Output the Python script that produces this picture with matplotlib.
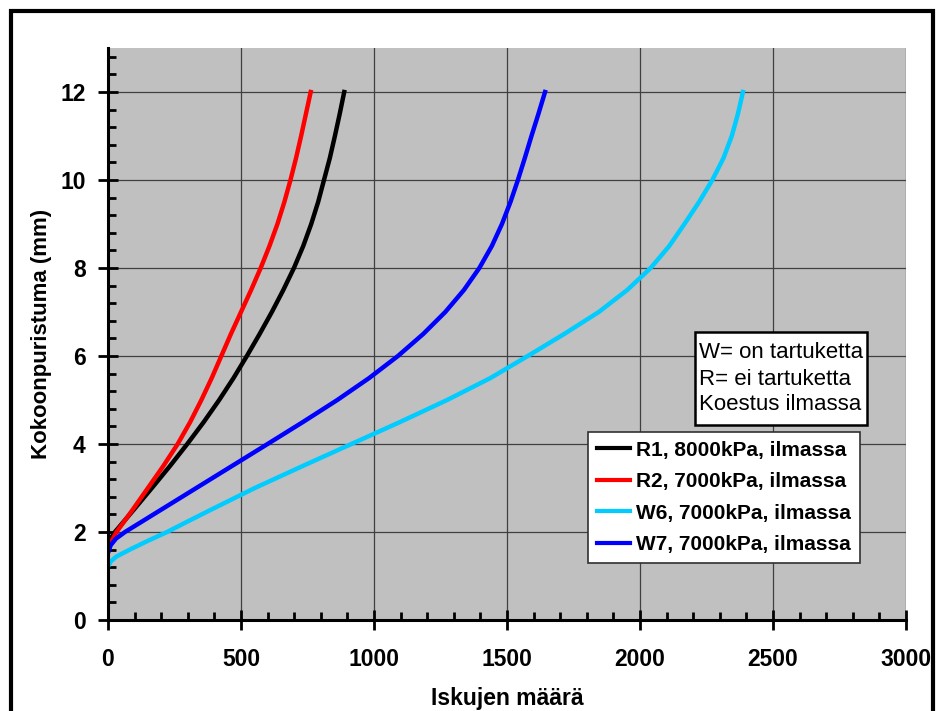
import matplotlib
matplotlib.use("Agg")
import matplotlib.pyplot as plt
from matplotlib.ticker import MultipleLocator
from matplotlib.patches import Rectangle

plt.rcParams['font.family'] = ['Liberation Sans', 'DejaVu Sans']

# Compaction (mm) versus number of blows
r1_y = [1.70, 1.85, 2.0, 2.5, 3.0, 3.5, 4.0, 4.5, 5.0, 5.5, 6.0, 6.5, 7.0, 7.5,
        8.0, 8.5, 9.0, 9.5, 10.0, 10.5, 11.0, 11.5, 12.0]
r1_x = [0, 10, 26, 96, 165, 233, 298, 360, 418, 472, 522, 570, 616, 659,
        699, 734, 764, 790, 812, 834, 853, 871, 888]

r2_y = [1.62, 1.8, 2.0, 2.5, 3.0, 3.5, 4.0, 4.5, 5.0, 5.5, 6.0, 6.5, 7.0, 7.5,
        8.0, 8.5, 9.0, 9.5, 10.0, 10.5, 11.0, 11.5, 12.0]
r2_x = [0, 14, 32, 92, 150, 208, 262, 309, 351, 390, 426, 462, 500, 538,
        574, 607, 637, 663, 686, 707, 726, 744, 762]

w6_y = [1.21, 1.33, 1.44, 1.6, 1.8, 2.0, 2.25, 2.5, 3.0, 3.5, 4.0, 4.5, 5.0, 5.5,
        6.0, 6.5, 7.0, 7.5, 8.0, 8.5, 9.0, 9.5, 10.0, 10.5, 11.0, 11.5, 12.0]
w6_x = [0, 10, 31, 82, 150, 222, 303, 385, 552, 732, 915, 1098, 1275, 1438,
        1578, 1715, 1845, 1952, 2040, 2110, 2167, 2222, 2272, 2314, 2345, 2368, 2387]

w7_y = [1.52, 1.7, 1.85, 2.0, 2.5, 3.0, 3.5, 4.0, 4.5, 5.0, 5.5, 6.0, 6.5, 7.0,
        7.5, 8.0, 8.5, 9.0, 9.5, 10.0, 10.5, 11.0, 11.5, 12.0]
w7_x = [0, 10, 30, 64, 198, 332, 466, 600, 733, 862, 982, 1090, 1185, 1268,
        1338, 1396, 1443, 1481, 1513, 1541, 1567, 1592, 1618, 1643]

labels = ["R1, 8000kPa, ilmassa", "R2, 7000kPa, ilmassa",
          "W6, 7000kPa, ilmassa", "W7, 7000kPa, ilmassa"]
colors = ["#000000", "#FF0000", "#00CCFF", "#0000FF"]
note_lines = ["W= on tartuketta", "R= ei tartuketta", "Koestus ilmassa"]

fig = plt.figure(figsize=(9.36, 7.11), dpi=100)
fig.patch.set_facecolor("white")
ax = fig.add_axes([108/936, 1 - 620/711, 798/936, 572/711])
ax.set_facecolor("#C0C0C0")

series = [(r1_x, r1_y), (r2_x, r2_y), (w6_x, w6_y), (w7_x, w7_y)]
for (xs, ys), lab, col in zip(series, labels, colors):
    ax.plot(xs, ys, color=col, lw=3.2, label=lab, solid_joinstyle="round")

ax.set_xlim(0, 3000)
ax.set_ylim(0, 13)
ax.xaxis.set_major_locator(MultipleLocator(500))
ax.xaxis.set_minor_locator(MultipleLocator(100))
ax.yaxis.set_major_locator(MultipleLocator(2))
ax.yaxis.set_minor_locator(MultipleLocator(0.4))

ax.grid(True, which="major", color="#404040", lw=0.9)
ax.set_axisbelow(True)

for side in ("top", "right"):
    ax.spines[side].set_visible(False)
for side in ("left", "bottom"):
    ax.spines[side].set_linewidth(2.2)
    ax.spines[side].set_zorder(5)

ax.tick_params(which="major", direction="inout", length=14, width=2, labelsize=16.5, pad=9)
ax.tick_params(axis="x", which="major", pad=13)
ax.tick_params(which="minor", direction="in", length=6, width=2)
for lbl in ax.get_xticklabels() + ax.get_yticklabels():
    lbl.set_fontweight("bold")

ax.set_xlabel("Iskujen määrä", fontsize=16.5, fontweight="bold", labelpad=12)
ax.set_ylabel("Kokoonpuristuma (mm)", fontsize=16, fontweight="bold", labelpad=6)

leg = ax.legend(loc="lower left", bbox_to_anchor=(0.6015, 0.0997), frameon=True,
                fancybox=False, framealpha=1, edgecolor="#303030",
                prop={"size": 15, "weight": "bold"}, handlelength=1.6,
                handletextpad=0.3, labelspacing=0.6, borderpad=0.42,
                borderaxespad=0)
leg.get_frame().set_linewidth(1.2)
for h in leg.legend_handles:
    h.set_linewidth(3.0)

# note box with three lines of text
ax.add_patch(Rectangle((0.7356, 0.3409), 0.2155, 0.1626, transform=ax.transAxes,
                       fc="white", ec="black", lw=1.8, zorder=6))
for line, yy in zip(note_lines, [0.4668, 0.4213, 0.3759]):
    ax.text(0.7406, yy, line, transform=ax.transAxes, ha="left", va="center",
            fontsize=16, zorder=7)

# outer frame around the chart
fig.patches.append(Rectangle((11/936, -0.05), 922/936, 1.05 - 11.5/711,
                             transform=fig.transFigure, fill=False,
                             ec="black", lw=3.0))

fig.savefig("out.png", dpi=100)
